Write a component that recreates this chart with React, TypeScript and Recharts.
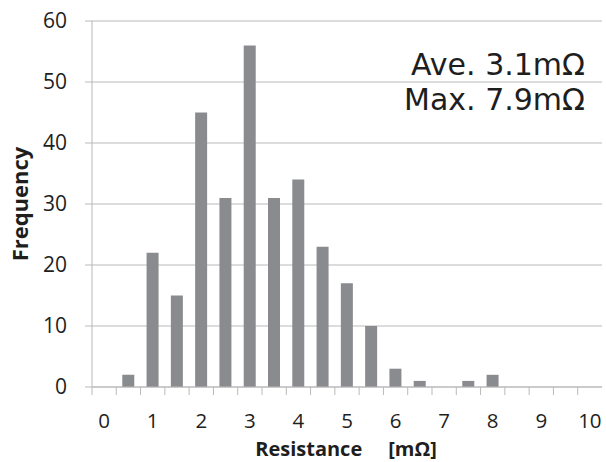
import { BarChart, Bar, XAxis, YAxis, CartesianGrid } from 'recharts';

const resistance = ['0', '0.5', '1', '1.5', '2', '2.5', '3', '3.5', '4', '4.5', '5', '5.5', '6', '6.5', '7', '7.5', '8', '8.5', '9', '9.5', '10'];
const frequency = [0, 2, 22, 15, 45, 31, 56, 31, 34, 23, 17, 10, 3, 1, 0, 1, 2, 0, 0, 0, 0];
const yTicks = [0, 10, 20, 30, 40, 50, 60];
const notes = ['Ave. 3.1mΩ', 'Max. 7.9mΩ'];

const data = resistance.map((r, i) => ({ r, count: frequency[i] }));

const GRID = '#b9b9b9';
const TEXT = '#1e1e1e';

function XTick(props: any) {
  const { x, y, payload } = props;
  const half = payload.offset ?? 12.14;
  const isInt = Number(payload.value) % 1 === 0;
  return (
    <g>
      <line x1={x - half} y1={y - 8} x2={x - half} y2={y} stroke={GRID} strokeWidth={1} />
      {isInt && (
        <text x={x} y={y + 33} textAnchor="middle" fontFamily="Open Sans" fontSize={20.5} fill={TEXT}>
          {payload.value}
        </text>
      )}
    </g>
  );
}

export default function App() {
  return (
    <div style={{ position: 'absolute', left: 0, top: 0, width: 606, height: 462, background: '#fff' }}>
      <BarChart
        width={606}
        height={462}
        data={data}
        margin={{ top: 21, right: 4, bottom: 0, left: 0 }}
        barSize={12}
      >
        <CartesianGrid vertical={false} stroke={GRID} />
        <XAxis
          dataKey="r"
          interval={0}
          height={75}
          tickSize={8}
          tickMargin={0}
          tickLine={false}
          axisLine={{ stroke: GRID }}
          tick={<XTick />}
        />
        <YAxis
          domain={[0, 60]}
          ticks={yTicks}
          width={92}
          tickSize={7}
          tickMargin={18}
          axisLine={{ stroke: GRID }}
          tickLine={{ stroke: GRID }}
          tick={{ fontFamily: 'Open Sans', fontSize: 21, fill: TEXT }}
        />
        <YAxis
          yAxisId="right"
          orientation="right"
          width={0}
          tick={false}
          tickLine={false}
          axisLine={{ stroke: GRID }}
        />
        <Bar dataKey="count" fill="#8a8b8f" isAnimationActive={false} />
        <text
          x={28}
          y={204}
          transform="rotate(-90, 28, 204)"
          textAnchor="middle"
          fontFamily="Open Sans"
          fontWeight={700}
          fontSize={22}
          fill={TEXT}
        >
          Frequency
        </text>
        <text x={346} y={456} textAnchor="middle" fontFamily="Open Sans" fontWeight={700} fontSize={20} fill={TEXT}>
          <tspan>Resistance</tspan>
          <tspan dx={26}>[mΩ]</tspan>
        </text>
        {notes.map((n, i) => (
          <text key={n} x={585} y={75 + i * 35} textAnchor="end" fontFamily="DejaVu Sans" fontSize={30} fill={TEXT}>
            {n}
          </text>
        ))}
      </BarChart>
    </div>
  );
}
